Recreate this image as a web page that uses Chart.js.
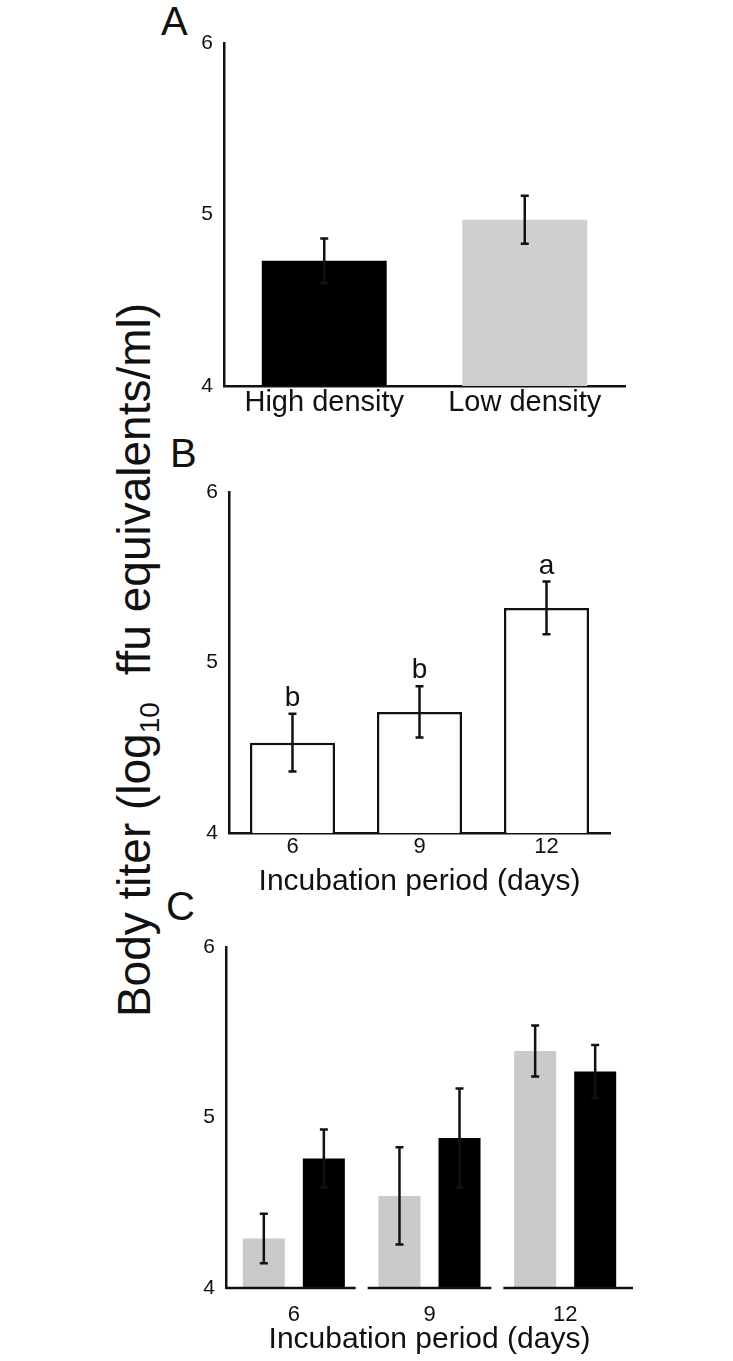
<!DOCTYPE html>
<html>
<head>
<meta charset="utf-8">
<script src="https://cdn.jsdelivr.net/npm/chart.js@4"></script>
<style>
  body { margin: 0; background: #fff; }
  #page { position: relative; width: 733px; height: 1361px; overflow: hidden; font-family: "Liberation Sans", Arial, sans-serif; color: #111; }
  canvas { position: absolute; }
  .panel-letter { position: absolute; font-size: 40px; line-height: 40px; }
  #yTitle {
    position: absolute; left: -266px; top: 637px; width: 800px; height: 46px;
    font-size: 46px; line-height: 46px; text-align: center; white-space: nowrap;
    transform: rotate(-90deg); transform-origin: center;
  }
  #yTitle sub { font-size: 28px; line-height: 0; vertical-align: -9px; margin-right: 14px; }
</style>
</head>
<body>
<div id="page">
  <div id="yTitle">Body titer (log<sub>10</sub> ffu equivalents/ml)</div>
  <div class="panel-letter" style="left:161px; top:1px;">A</div>
  <div class="panel-letter" style="left:170px; top:433px;">B</div>
  <div class="panel-letter" style="left:166px; top:886px;">C</div>
  <canvas id="chartA" width="510" height="430" style="left:130px; top:0px;"></canvas>
  <canvas id="chartB" width="510" height="460" style="left:130px; top:440px;"></canvas>
  <canvas id="chartC" width="510" height="461" style="left:130px; top:900px;"></canvas>
</div>
<script>
// Panel A - rearing density
const densityLabels = ["High density", "Low density"];
const densityMeans = [4.73, 4.97];
const densityErrors = [0.13, 0.14];

// Panel B - incubation period
const dayLabels = ["6", "9", "12"];
const periodMeans = [4.53, 4.71, 5.32];
const periodErrors = [0.17, 0.15, 0.155];
const periodLetters = ["b", "b", "a"];

// Panel C - incubation period by density
const lowMeans = [4.29, 4.54, 5.39];
const lowErrors = [0.145, 0.285, 0.15];
const highMeans = [4.76, 4.88, 5.27];
const highErrors = [0.17, 0.29, 0.155];

const yTicks = [4, 5, 6];

const FONT = "'Liberation Sans', Arial, sans-serif";
const INK = "#111";

// error bars: options.plugins.errorBars.errors[datasetIndex][i]
const errorBarPlugin = {
    id: "errorBars",
    afterDatasetsDraw(chart, args, opts) {
        const ctx = chart.ctx;
        const yScale = chart.scales.y;
        ctx.save();
        ctx.strokeStyle = INK;
        ctx.lineWidth = 2.5;
        chart.data.datasets.forEach((ds, di) => {
            const meta = chart.getDatasetMeta(di);
            meta.data.forEach((bar, i) => {
                const v = ds.data[i];
                const e = opts.errors[di][i];
                const yTop = yScale.getPixelForValue(v + e);
                const yBot = yScale.getPixelForValue(v - e);
                ctx.beginPath();
                ctx.moveTo(bar.x, yTop);
                ctx.lineTo(bar.x, yBot);
                ctx.moveTo(bar.x - 4, yTop);
                ctx.lineTo(bar.x + 4, yTop);
                ctx.moveTo(bar.x - 4, yBot);
                ctx.lineTo(bar.x + 4, yBot);
                ctx.stroke();
            });
        });
        ctx.restore();
    }
};

// significance letters above error bars
const letterPlugin = {
    id: "sigLetters",
    afterDatasetsDraw(chart, args, opts) {
        if (!opts.letters) return;
        const ctx = chart.ctx;
        const yScale = chart.scales.y;
        const ds = chart.data.datasets[0];
        const meta = chart.getDatasetMeta(0);
        ctx.save();
        ctx.fillStyle = INK;
        ctx.font = "28px " + FONT;
        ctx.textAlign = "center";
        ctx.textBaseline = "alphabetic";
        meta.data.forEach((bar, i) => {
            const y = yScale.getPixelForValue(ds.data[i] + opts.errors[i]);
            ctx.fillText(opts.letters[i], bar.x, y - 8);
        });
        ctx.restore();
    }
};

// broken x axis, one segment per category
const splitAxisPlugin = {
    id: "splitAxis",
    afterDraw(chart, args, opts) {
        if (!opts.split) return;
        const ctx = chart.ctx;
        const xs = chart.scales.x;
        const area = chart.chartArea;
        const n = chart.data.labels.length;
        ctx.save();
        ctx.strokeStyle = INK;
        ctx.lineWidth = 2.5;
        for (let i = 0; i < n; i++) {
            let left = i === 0 ? area.left : (xs.getPixelForTick(i - 1) + xs.getPixelForTick(i)) / 2 + 6;
            let right = i === n - 1 ? area.right : (xs.getPixelForTick(i) + xs.getPixelForTick(i + 1)) / 2 - 6;
            ctx.beginPath();
            ctx.moveTo(left, area.bottom);
            ctx.lineTo(right, area.bottom);
            ctx.stroke();
        }
        ctx.restore();
    }
};

function yAxis(width) {
    return {
        min: 4,
        max: 6,
        afterBuildTicks: (scale) => { scale.ticks = yTicks.map(v => ({ value: v })); },
        afterFit: (scale) => { scale.width = width; },
        grid: { display: false, drawTicks: false },
        border: { display: true, color: INK, width: 2.5 },
        ticks: { color: INK, font: { family: FONT, size: 21 }, padding: 11 }
    };
}

function xAxis(height, tickSize, tickPad, title, titlePad, showBorder) {
    return {
        afterFit: (scale) => { scale.height = height; },
        grid: { display: false, drawTicks: false },
        border: { display: showBorder, color: INK, width: 2.5 },
        ticks: { color: INK, font: { family: FONT, size: tickSize }, padding: tickPad, maxRotation: 0 },
        title: {
            display: !!title,
            text: title || "",
            color: INK,
            font: { family: FONT, size: 30 },
            padding: { top: 0, bottom: titlePad }
        }
    };
}

const commonOptions = {
    responsive: false,
    animation: false,
    plugins: { legend: { display: false }, tooltip: { enabled: false } }
};

// Panel A
new Chart(document.getElementById("chartA").getContext("2d"), {
    type: "bar",
    data: {
        labels: densityLabels,
        datasets: [{
            label: "Body titer",
            data: densityMeans,
            backgroundColor: ["#000000", "#cfcfcf"],
            borderWidth: 0,
            categoryPercentage: 1,
            barPercentage: 0.623
        }]
    },
    options: {
        ...commonOptions,
        layout: { padding: { top: 43, right: 15, left: 0, bottom: 0 } },
        scales: { x: xAxis(44, 29, 0, null, 0, true), y: yAxis(94) },
        plugins: { ...commonOptions.plugins, errorBars: { errors: [densityErrors] } }
    },
    plugins: [errorBarPlugin]
});

// Panel B
new Chart(document.getElementById("chartB").getContext("2d"), {
    type: "bar",
    data: {
        labels: dayLabels,
        datasets: [{
            label: "Body titer",
            data: periodMeans,
            backgroundColor: "#ffffff",
            borderColor: INK,
            borderWidth: 2.5,
            borderSkipped: "bottom",
            categoryPercentage: 1,
            barPercentage: 0.67
        }]
    },
    options: {
        ...commonOptions,
        layout: { padding: { top: 52, right: 30, left: 0, bottom: 0 } },
        scales: { x: xAxis(67, 22, 1, "Incubation period (days)", 0, true), y: yAxis(99) },
        plugins: {
            ...commonOptions.plugins,
            errorBars: { errors: [periodErrors] },
            sigLetters: { letters: periodLetters, errors: periodErrors }
        }
    },
    plugins: [errorBarPlugin, letterPlugin]
});

// Panel C
new Chart(document.getElementById("chartC").getContext("2d"), {
    type: "bar",
    data: {
        labels: dayLabels,
        datasets: [
            {
                label: "Low density",
                data: lowMeans,
                backgroundColor: "#cacaca",
                borderWidth: 0,
                categoryPercentage: 0.885,
                barPercentage: 0.7
            },
            {
                label: "High density",
                data: highMeans,
                backgroundColor: "#000000",
                borderWidth: 0,
                categoryPercentage: 0.885,
                barPercentage: 0.7
            }
        ]
    },
    options: {
        ...commonOptions,
        layout: { padding: { top: 47, right: 7, left: 0, bottom: 0 } },
        scales: { x: xAxis(73, 22, 14, "Incubation period (days)", 3, false), y: yAxis(96) },
        plugins: {
            ...commonOptions.plugins,
            errorBars: { errors: [lowErrors, highErrors] },
            splitAxis: { split: true }
        }
    },
    plugins: [errorBarPlugin, splitAxisPlugin]
});
</script>
</body>
</html>
